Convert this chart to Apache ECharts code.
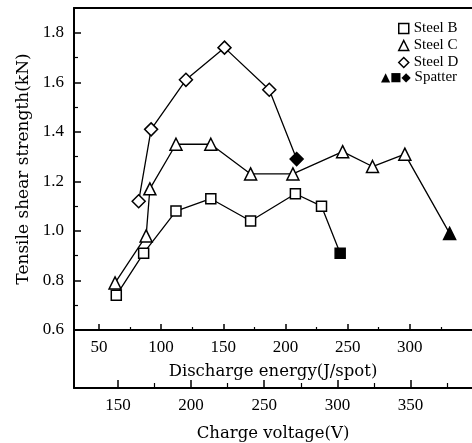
<!DOCTYPE html>
<html>
<head>
<meta charset="utf-8">
<script src="https://cdn.jsdelivr.net/npm/echarts@6/dist/echarts.min.js"></script>
<style>
  html, body { margin: 0; padding: 0; background: #fff; }
  #chart { width: 472px; height: 443px; }
</style>
</head>
<body>
<div id="chart"></div>
<script>
// discharge energy (J/spot) and tensile shear strength (kN)
var steelB_energy = [64, 86, 112, 140, 172, 208, 229, 244];
var steelB_value = [0.74, 0.91, 1.08, 1.13, 1.04, 1.15, 1.10, 0.91];
var steelB_spatter = [0, 0, 0, 0, 0, 0, 0, 1];

var steelC_energy = [63, 88, 91, 112, 140, 172, 206, 246, 270, 296, 332];
var steelC_value = [0.79, 0.98, 1.17, 1.35, 1.35, 1.23, 1.23, 1.32, 1.26, 1.31, 0.99];
var steelC_spatter = [0, 0, 0, 0, 0, 0, 0, 0, 0, 0, 1];

var steelD_energy = [82, 92, 120, 151, 187, 209];
var steelD_value = [1.12, 1.41, 1.61, 1.74, 1.57, 1.29];
var steelD_spatter = [0, 0, 0, 0, 0, 1];

var energyTicks = [50, 100, 150, 200, 250, 300];
var energyMinor = [75, 125, 175, 225, 275, 325];
var voltageTicks = [150, 200, 250, 300, 350];
var voltageMinor = [175, 225, 275, 325, 375];

var FONT = "Liberation Serif";
var NAME_FONT = "DejaVu Serif";

function buildData(xs, ys, sp) {
  var out = [];
  for (var i = 0; i < xs.length; i++) {
    var item = { value: [xs[i], ys[i]] };
    if (sp[i]) {
      item.itemStyle = { color: "#000", borderColor: "#000" };
    }
    out.push(item);
  }
  return out;
}

function lineSeries(name, symbol, size, xs, ys, sp) {
  return {
    name: name,
    type: "line",
    xAxisIndex: 0,
    yAxisIndex: 0,
    symbol: symbol,
    symbolSize: size,
    showAllSymbol: true,
    data: buildData(xs, ys, sp),
    lineStyle: { color: "#000", width: 1.3 },
    itemStyle: { color: "#fff", borderColor: "#000", borderWidth: 1.5 },
    emphasis: { disabled: true },
    z: 3
  };
}

var myChart = echarts.init(document.getElementById("chart"), null, { renderer: "canvas" });

myChart.setOption({
  animation: false,
  textStyle: { fontFamily: FONT },
  grid: [
    { left: 74, top: 8, width: 400, height: 322 },
    { left: 74, top: 330, width: 400, height: 63 }
  ],
  legend: {
    orient: "vertical",
    left: 393,
    top: 16,
    itemWidth: 10,
    itemHeight: 10,
    itemGap: 2,
    textStyle: { fontFamily: FONT, fontSize: 15, color: "#000" },
    data: [
      { name: "Steel B", icon: "rect", itemStyle: { color: "#fff", borderColor: "#000", borderWidth: 1.5 } },
      { name: "Steel C", icon: "triangle", itemStyle: { color: "#fff", borderColor: "#000", borderWidth: 1.5 } },
      { name: "Steel D", icon: "diamond", itemStyle: { color: "#fff", borderColor: "#000", borderWidth: 1.5 } }
    ],
    selectedMode: false
  },
  graphic: [
    {
      type: "text",
      left: 381,
      top: 70,
      style: {
        text: "{g|▲■◆} Spatter",
        fontFamily: FONT,
        fontSize: 15,
        fill: "#000",
        rich: { g: { fontFamily: "DejaVu Sans", fontSize: 12, fill: "#000" } }
      }
    }
  ],
  xAxis: [
    {
      gridIndex: 0,
      type: "value",
      min: 30,
      max: 350,
      position: "bottom",
      axisLine: { lineStyle: { color: "#000", width: 2 } },
      axisTick: { inside: true, length: 6, customValues: energyTicks, lineStyle: { color: "#000", width: 1.5 } },
      axisLabel: { customValues: energyTicks, margin: 9, fontFamily: FONT, fontSize: 17, color: "#000" },
      splitLine: { show: false },
      name: "Discharge energy(J/spot)",
      nameLocation: "middle",
      nameGap: 33,
      nameTextStyle: { fontFamily: NAME_FONT, fontSize: 16.5, color: "#000" }
    },
    {
      gridIndex: 0,
      type: "value",
      min: 30,
      max: 350,
      position: "bottom",
      axisLine: { show: false },
      axisTick: { inside: true, length: 3, customValues: energyMinor, lineStyle: { color: "#000", width: 1.2 } },
      axisLabel: { show: false },
      splitLine: { show: false }
    },
    {
      // top frame line only
      gridIndex: 0,
      type: "value",
      min: 30,
      max: 350,
      position: "top",
      axisLine: { lineStyle: { color: "#000", width: 2 } },
      axisTick: { show: false },
      axisLabel: { show: false },
      splitLine: { show: false }
    },
    {
      gridIndex: 1,
      type: "value",
      min: 120,
      max: 392,
      position: "bottom",
      axisLine: { lineStyle: { color: "#000", width: 2 } },
      axisTick: { inside: true, length: 8, customValues: voltageTicks, lineStyle: { color: "#000", width: 1.5 } },
      axisLabel: { customValues: voltageTicks, margin: 9, fontFamily: FONT, fontSize: 17, color: "#000" },
      splitLine: { show: false },
      name: "Charge voltage(V)",
      nameLocation: "middle",
      nameGap: 37,
      nameTextStyle: { fontFamily: NAME_FONT, fontSize: 16.5, color: "#000" }
    },
    {
      gridIndex: 1,
      type: "value",
      min: 120,
      max: 392,
      position: "bottom",
      axisLine: { show: false },
      axisTick: { inside: true, length: 5, customValues: voltageMinor, lineStyle: { color: "#000", width: 1.2 } },
      axisLabel: { show: false },
      splitLine: { show: false }
    }
  ],
  yAxis: [
    {
      gridIndex: 0,
      type: "value",
      min: 0.6,
      max: 1.9,
      interval: 0.2,
      axisLine: { show: true, lineStyle: { color: "#000", width: 2 } },
      axisTick: { inside: true, length: 7, lineStyle: { color: "#000", width: 1.5 } },
      minorTick: { show: true, splitNumber: 2, length: 4, lineStyle: { color: "#000", width: 1.2 } },
      axisLabel: {
        margin: 10,
        showMaxLabel: false,
        fontFamily: FONT,
        fontSize: 17,
        color: "#000",
        formatter: function (v) { return v.toFixed(1); }
      },
      splitLine: { show: false },
      name: "Tensile shear strength(kN)",
      nameLocation: "middle",
      nameRotate: 90,
      nameGap: 40,
      nameTextStyle: { fontFamily: NAME_FONT, fontSize: 17, color: "#000" }
    },
    {
      gridIndex: 1,
      type: "value",
      min: 0,
      max: 1,
      axisLine: { show: true, lineStyle: { color: "#000", width: 2 } },
      axisTick: { show: false },
      axisLabel: { show: false },
      splitLine: { show: false }
    }
  ],
  series: [
    lineSeries("Steel B", "rect", 10, steelB_energy, steelB_value, steelB_spatter),
    lineSeries("Steel C", "triangle", 12, steelC_energy, steelC_value, steelC_spatter),
    lineSeries("Steel D", "diamond", 13, steelD_energy, steelD_value, steelD_spatter)
  ]
});
</script>
</body>
</html>
